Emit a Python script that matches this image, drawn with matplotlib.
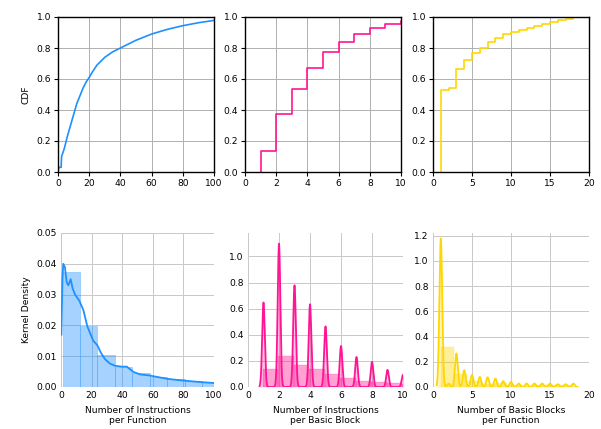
import numpy as np
import matplotlib
matplotlib.use("Agg")
import matplotlib.pyplot as plt

plt.rcParams['font.family'] = ['DejaVu Sans']
plt.rcParams['font.size'] = 6.6

# ---------------- data ----------------
# Instructions per function: CDF knots (top-left)
ipf_cdf_x = [0, 0.5, 2.0, 2.3, 4, 6, 8, 10, 12, 14, 16, 18, 20, 22, 25, 30, 35, 40, 50, 60, 70, 80, 90, 100]
ipf_cdf_y = [0, 0.03, 0.03, 0.10, 0.15, 0.23, 0.30, 0.37, 0.44, 0.49, 0.54, 0.58, 0.61, 0.645, 0.69,
             0.74, 0.775, 0.80, 0.85, 0.89, 0.92, 0.944, 0.963, 0.978]
# Instructions per function: histogram densities (bins start at 1, width 11.4)
ipf_hist_start = 1.0
ipf_hist_width = 11.4
ipf_hist_density = [0.0374, 0.0198, 0.0103, 0.0066, 0.0044, 0.0033, 0.0026, 0.0021, 0.0016]
# Instructions per function: kernel density curve
ipf_kde_x = [0.3, 0.9, 1.5, 2.6, 3.7, 4.8, 6.3, 7.6, 9.2, 12, 14.6, 17.2, 19.4, 21.1, 23.7, 26.1, 28.8,
             32, 35.3, 39.7, 43, 47.3, 51.6, 57, 62.5, 69, 75.6, 82, 91, 100]
ipf_kde_y = [0.017, 0.035, 0.040, 0.0388, 0.034, 0.033, 0.035, 0.032, 0.030, 0.028, 0.025, 0.0197, 0.017,
             0.015, 0.0136, 0.0111, 0.009, 0.0076, 0.0069, 0.0066, 0.0066, 0.0049, 0.0041, 0.0038, 0.0033,
             0.0027, 0.0023, 0.002, 0.0016, 0.0013]

# Instructions per basic block: value -> share
ipb_values = [1, 2, 3, 4, 5, 6, 7, 8, 9, 10, 11, 12, 13, 15, 20]
ipb_share = [0.138, 0.234, 0.166, 0.135, 0.099, 0.067, 0.049, 0.041, 0.028, 0.020,
             0.008, 0.006, 0.004, 0.003, 0.002]

# Basic blocks per function: value -> share
bpf_values = list(range(1, 19))
bpf_share = [0.531, 0.012, 0.12, 0.06, 0.043, 0.036, 0.035, 0.03, 0.021, 0.018,
             0.0124, 0.0124, 0.0124, 0.0124, 0.0124, 0.01, 0.01, 0.012]

colors = ["dodgerblue", "deeppink", "gold"]

# ---------------- helpers ----------------
def weighted_kde(values, weights, bw, grid):
    v = np.asarray(values, float)
    w = np.asarray(weights, float)
    w = w / w.sum()
    d = (grid[:, None] - v[None, :]) / bw
    return (np.exp(-0.5 * d ** 2) * w[None, :]).sum(axis=1) / (bw * np.sqrt(2 * np.pi))

def style_top(ax):
    ax.grid(True, color="#b0b0b0", linewidth=0.7)
    ax.set_axisbelow(True)
    for s in ax.spines.values():
        s.set_color("black")
        s.set_linewidth(1.0)
    ax.tick_params(length=3, width=0.8, pad=2)

def style_bottom(ax):
    ax.grid(True, color="#c8c8c8", linewidth=0.7)
    ax.set_axisbelow(True)
    for s in ax.spines.values():
        s.set_visible(False)
    ax.tick_params(length=0, pad=3)

# ---------------- figure ----------------
fig = plt.figure(figsize=(6.01, 4.29), dpi=100)
W, H = 601, 429
def add_ax(x0, x1, y0, y1):
    return fig.add_axes([x0 / W, 1 - y1 / H, (x1 - x0) / W, (y1 - y0) / H])

ax1 = add_ax(58, 214, 17, 172)
ax2 = add_ax(245, 401, 17, 172)
ax3 = add_ax(433, 589, 17, 172)
ax4 = add_ax(61, 214, 233, 387)
ax5 = add_ax(248, 403, 233, 387)
ax6 = add_ax(433, 589, 233, 387)

# Top-left CDF
ax1.plot(ipf_cdf_x, ipf_cdf_y, color=colors[0], linewidth=1.2)
ax1.set_xlim(0, 100)
ax1.set_ylim(0, 1)
ax1.set_xticks(np.arange(0, 101, 20))
ax1.set_yticks(np.arange(0, 1.01, 0.2))
ax1.set_ylabel("CDF")
style_top(ax1)

# Top-middle CDF
ipb_cdf = np.cumsum(ipb_share) / np.sum(ipb_share)
ax2.step([ipb_values[0]] + ipb_values, [0] + list(ipb_cdf), where="post",
         color=colors[1], linewidth=1.2)
ax2.set_xlim(0, 10)
ax2.set_ylim(0, 1)
ax2.set_xticks(np.arange(0, 11, 2))
ax2.set_yticks(np.arange(0, 1.01, 0.2))
style_top(ax2)

# Top-right CDF
bpf_cdf = np.cumsum(bpf_share) / np.sum(bpf_share)
ax3.step([bpf_values[0]] + bpf_values, [0] + list(bpf_cdf), where="post",
         color=colors[2], linewidth=1.2)
ax3.set_xlim(0, 20)
ax3.set_ylim(0, 1)
ax3.set_xticks(np.arange(0, 21, 5))
ax3.set_yticks(np.arange(0, 1.01, 0.2))
style_top(ax3)

# Bottom-left: histogram + KDE
edges = ipf_hist_start + ipf_hist_width * np.arange(len(ipf_hist_density))
ax4.bar(edges, ipf_hist_density, width=ipf_hist_width, align="edge",
        color=colors[0], alpha=0.4, edgecolor=colors[0], linewidth=0.5)
ax4.plot(ipf_kde_x, ipf_kde_y, color=colors[0], linewidth=1.3)
ax4.set_xlim(0, 100)
ax4.set_ylim(0, 0.05)
ax4.set_xticks(np.arange(0, 101, 20))
ax4.set_yticks(np.arange(0, 0.051, 0.01))
ax4.set_yticklabels([f"{v:.2f}" for v in np.arange(0, 0.051, 0.01)])
ax4.set_ylabel("Kernel Density")
ax4.set_xlabel("Number of Instructions\nper Function")
style_bottom(ax4)

# Bottom-middle
bins5 = np.arange(0.95, 21, 1.0)
ax5.hist(ipb_values, bins=bins5, weights=ipb_share, density=True,
         color=colors[1], alpha=0.4, edgecolor=colors[1], linewidth=0.3)
g5 = np.linspace(min(ipb_values) - 0.255, max(ipb_values) + 0.255, 4000)
k5 = weighted_kde(ipb_values, ipb_share, 0.085, g5)
ax5.fill_between(g5, k5, color=colors[1], alpha=0.25, linewidth=0)
ax5.plot(g5, k5, color=colors[1], linewidth=1.3)
ax5.set_xlim(0, 10)
ax5.set_ylim(0, 1.18)
ax5.set_xticks(np.arange(0, 11, 2))
ax5.set_yticks(np.arange(0, 1.01, 0.2))
ax5.set_xlabel("Number of Instructions\nper Basic Block")
style_bottom(ax5)

# Bottom-right
bins6 = np.linspace(min(bpf_values), max(bpf_values), 11)
ax6.hist(bpf_values, bins=bins6, weights=bpf_share, density=True,
         color=colors[2], alpha=0.4, edgecolor=colors[2], linewidth=0.3)
g6 = np.linspace(min(bpf_values) - 0.54, max(bpf_values) + 0.54, 4000)
k6 = weighted_kde(bpf_values, bpf_share, 0.18, g6)
ax6.fill_between(g6, k6, color=colors[2], alpha=0.25, linewidth=0)
ax6.plot(g6, k6, color=colors[2], linewidth=1.3)
ax6.set_xlim(0, 20)
ax6.set_ylim(0, 1.22)
ax6.set_xticks(np.arange(0, 21, 5))
ax6.set_yticks(np.arange(0, 1.21, 0.2))
ax6.set_xlabel("Number of Basic Blocks\nper Function")
style_bottom(ax6)

fig.savefig("out.png", dpi=100)
